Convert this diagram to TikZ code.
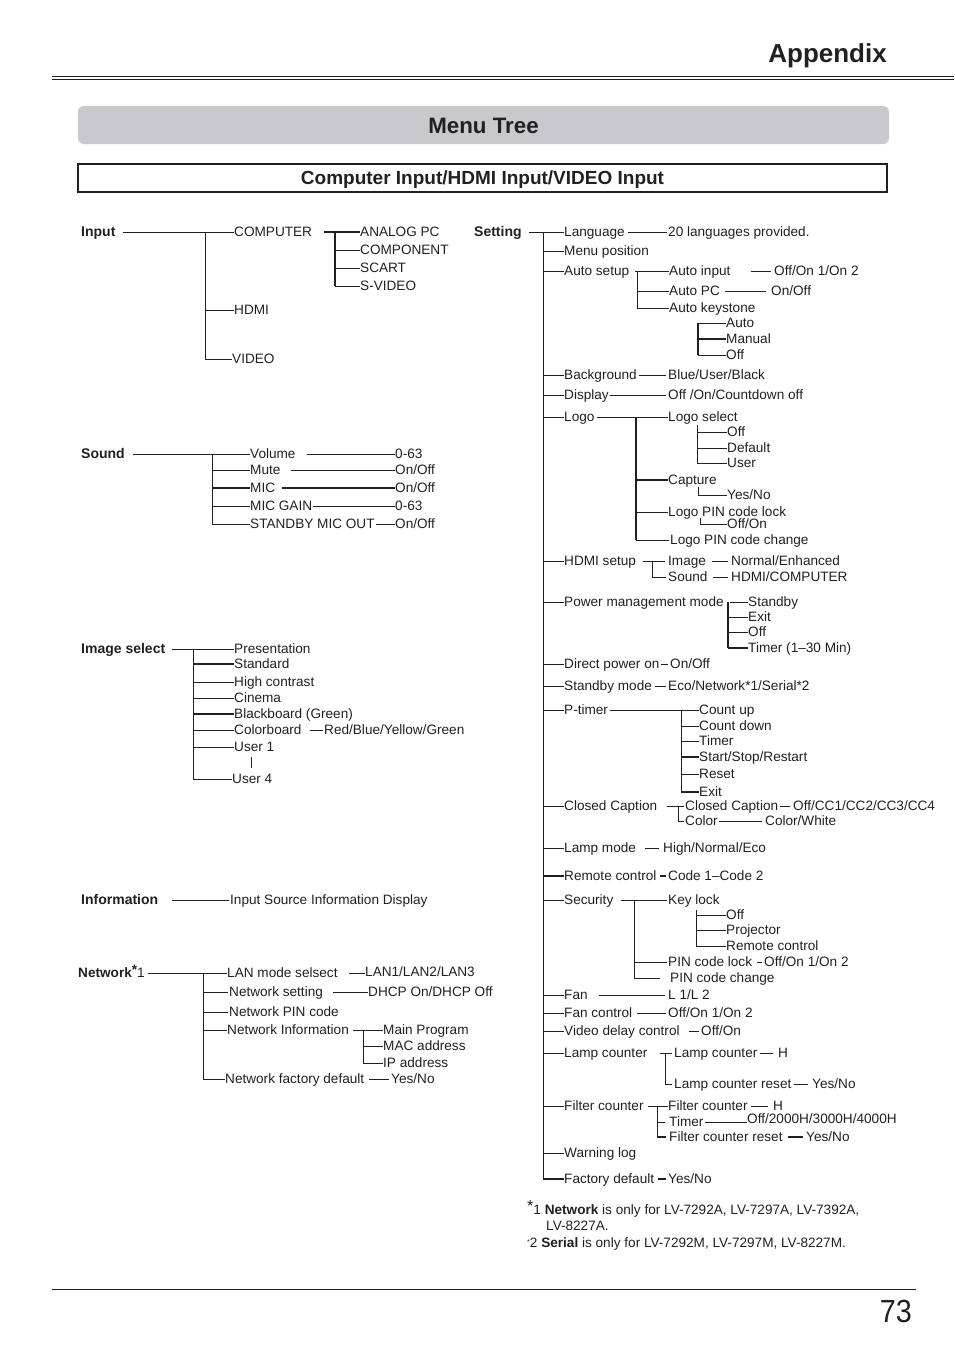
\documentclass[tikz,border=0pt]{standalone}
\usepackage{fontspec}
\setmainfont{Liberation Sans}
\usepackage{graphicx}
\definecolor{ink}{HTML}{231F20}
\definecolor{menugray}{RGB}{201,200,205}
\begin{document}
\begin{tikzpicture}[x=1pt,y=-1pt,
  t/.style={anchor=west, inner sep=0pt, text height=10pt, text depth=1pt, text=ink, font=\fontsize{13.6}{15}\selectfont},
  h/.style={t, font=\fontsize{14}{16}\selectfont\bfseries},
  ln/.style={draw=ink, line width=0.9pt},
  tk/.style={draw=ink, line width=1.8pt},
  rule/.style={draw=ink, line width=0.9pt}]
\useasboundingbox (0,0) rectangle (954,1354);

% ---------- header ----------
\coordinate (hl1) at (52,76); \coordinate (hr1) at (954,76);
\coordinate (hl2) at (52,79); \coordinate (hr2) at (954,79);
\draw[rule] (hl1) -- (hr1); \draw[rule] (hl2) -- (hr2);
\node[anchor=base east, inner sep=0pt, text=ink, font=\fontsize{26}{28}\selectfont\bfseries] (appx) at (887,63) {Appendix};
\fill[menugray, rounded corners=6pt] (78,106) rectangle (889,144);
\node[anchor=base, inner sep=0pt, text=ink, font=\fontsize{22.3}{24}\selectfont\bfseries] (mtree) at (483.5,133) {Menu Tree};
\draw[draw=ink, line width=1.6pt] (78,164) rectangle (887,192);
\node[anchor=base, inner sep=0pt, text=ink, font=\fontsize{19}{21}\selectfont\bfseries] (sect) at (482.5,184.5) {Computer Input/HDMI Input/VIDEO Input};

% ---------- footer ----------
\coordinate (fl) at (52,1289); \coordinate (fr) at (916,1289);
\draw[rule] (fl) -- (fr);
\node[anchor=base east, inner sep=0pt, text=ink, font=\fontsize{32}{34}\selectfont] (pg) at (912,1322) {\scalebox{0.9}[1]{73}};

% ================= LEFT COLUMN =================
% Input
\node[h] (in) at (81,232) {Input};
\node[t] (comp) at (234,232) {COMPUTER};
\node[t] (hdmi) at (234,310) {HDMI};
\node[t] (video) at (232,359) {VIDEO};
\node[t] (apc) at (360,232) {ANALOG PC};
\node[t] (cpn) at (360,250) {COMPONENT};
\node[t] (scart) at (360,268) {SCART};
\node[t] (svid) at (360,286) {S-VIDEO};
\coordinate (jin) at (205,232);
\coordinate (jcomp) at (335,232);
\draw[ln] ([xshift=7pt]in.east) -- (comp.west);
\draw[ln] (jin) |- (video.west);
\draw[ln] (jin |- hdmi.west) -- (hdmi.west);
\draw[ln, line width=1.3pt] ([xshift=12pt]comp.east) -- (apc.west);
\draw[tk] (jcomp) -- (jcomp |- svid.west);
\draw[ln] (jcomp |- cpn.west) -- (cpn.west);
\draw[ln] (jcomp |- scart.west) -- (scart.west);
\draw[ln] (jcomp |- svid.west) -- (svid.west);

% Sound
\node[h] (snd) at (81,454) {Sound};
\node[t] (vol) at (250,454) {Volume};
\node[t] (mute) at (250,470) {Mute};
\node[t] (mic) at (250,488) {MIC};
\node[t] (gain) at (250,506) {MIC GAIN};
\node[t] (smo) at (250,524) {STANDBY MIC OUT};
\node[t] (sv1) at (395,454) {0-63};
\node[t] (sv2) at (395,470) {On/Off};
\node[t] (sv3) at (395,488) {On/Off};
\node[t] (sv4) at (395,506) {0-63};
\node[t] (sv5) at (395,524) {On/Off};
\coordinate (jsnd) at (212,454);
\draw[ln] ([xshift=8pt]snd.east) -- (vol.west);
\draw[ln] (jsnd) |- (smo.west);
\draw[ln] (jsnd |- mute.west) -- (mute.west);
\draw[tk] (jsnd |- mic.west) -- (mic.west);
\draw[ln] (jsnd |- gain.west) -- (gain.west);
\draw[ln] ([xshift=11pt]vol.east) -- (sv1.west);
\draw[ln] ([xshift=10pt]mute.east) -- (sv2.west);
\draw[tk] ([xshift=7pt]mic.east) -- (sv3.west);
\draw[ln] ([xshift=1pt]gain.east) -- (sv4.west);
\draw[ln] ([xshift=1pt]smo.east) -- (sv5.west);

% Image select
\node[h] (isel) at (81,649) {Image select};
\node[t] (pres) at (234,649) {Presentation};
\node[t] (std) at (234,664) {Standard};
\node[t] (hc) at (234,682) {High contrast};
\node[t] (cin) at (234,698) {Cinema};
\node[t] (bb) at (234,714) {Blackboard (Green)};
\node[t] (cb) at (234,730) {Colorboard};
\node[t] (u1) at (234,747) {User 1};
\node[t] (u4) at (232,779) {User 4};
\node[t] (rbyg) at (324,730) {Red/Blue/Yellow/Green};
\coordinate (jis) at (193,649);
\draw[ln] ([xshift=7pt]isel.east) -- (pres.west);
\draw[ln] (jis) |- (u4.west);
\draw[tk] (jis |- std.west) -- (std.west);
\draw[ln] (jis |- hc.west) -- (hc.west);
\draw[ln] (jis |- cin.west) -- (cin.west);
\draw[tk] (jis |- bb.west) -- (bb.west);
\draw[ln] (jis |- cb.west) -- (cb.west);
\draw[ln] (jis |- u1.west) -- (u1.west);
\draw[ln] ([xshift=8pt]cb.east) -- ([xshift=-1pt]rbyg.west);
\coordinate (dotA) at (251,757); \coordinate (dotB) at (251,768);
\draw[ln] (dotA) -- (dotB);

% Information
\node[h] (info) at (81,900) {Information};
\node[t] (isid) at (230,900) {Input Source Information Display};
\draw[ln] ([xshift=14pt]info.east) -- ([xshift=-1pt]isid.west);

% Network
\node[t] (net) at (78,973) {{\bfseries Network}\raisebox{3.5pt}{\bfseries *}1};
\node[t] (lan) at (227,973) {LAN mode selsect};
\node[t] (nset) at (229,992) {Network setting};
\node[t] (npin) at (229,1012) {Network PIN code};
\node[t] (ninf) at (227,1030) {Network Information};
\node[t] (nfd) at (225,1079) {Network factory default};
\node[t] (lan3) at (365,972) {LAN1/LAN2/LAN3};
\node[t] (dhcp) at (368,992) {DHCP On/DHCP Off};
\node[t] (mp) at (383,1030) {Main Program};
\node[t] (mac) at (383,1046) {MAC address};
\node[t] (ipa) at (383,1063) {IP address};
\node[t] (nyn) at (391,1079) {Yes/No};
\coordinate (jnet) at (203,973);
\coordinate (jninf) at (363,1030);
\draw[ln] ([xshift=3pt]net.east) -- (lan.west);
\draw[ln] (jnet) |- (nfd.west);
\draw[ln] (jnet |- nset.west) -- ([xshift=-1pt]nset.west);
\draw[ln] (jnet |- npin.west) -- ([xshift=-1pt]npin.west);
\draw[ln] (jnet |- ninf.west) -- (ninf.west);
\draw[ln] ([xshift=11pt]lan.east) -- (lan3.west |- lan.east);
\draw[ln] ([xshift=10pt]nset.east) -- (dhcp.west);
\draw[ln] ([xshift=4pt]ninf.east) -- (mp.west);
\draw[ln] (jninf) |- (ipa.west);
\draw[ln] (jninf |- mac.west) -- (mac.west);
\draw[ln] ([xshift=5pt]nfd.east) -- ([xshift=-2pt]nyn.west);

% ================= RIGHT COLUMN =================
\node[h] (set) at (474,232) {Setting};
\node[t] (lang) at (564,232) {Language};
\node[t] (mpos) at (564,251) {Menu position};
\node[t] (aset) at (564,271) {Auto setup};
\node[t] (bg) at (564,375) {Background};
\node[t] (disp) at (564,395) {Display};
\node[t] (logo) at (564,417) {Logo};
\node[t] (hset) at (564,561) {HDMI setup};
\node[t] (pmm) at (564,602) {Power management mode};
\node[t] (dpo) at (564,664) {Direct power on};
\node[t] (sbm) at (564,686) {Standby mode};
\node[t] (pt) at (564,710) {P-timer};
\node[t] (cc) at (564,806) {Closed Caption};
\node[t] (lm) at (564,848) {Lamp mode};
\node[t] (rc) at (564,876) {Remote control};
\node[t] (sec) at (564,900) {Security};
\node[t] (fan) at (564,995) {Fan};
\node[t] (fc) at (564,1013) {Fan control};
\node[t] (vdc) at (564,1031) {Video delay control};
\node[t] (lc) at (564,1053) {Lamp counter};
\node[t] (flc) at (564,1106) {Filter counter};
\node[t] (wl) at (564,1153) {Warning log};
\node[t] (fd) at (564,1179) {Factory default};
\coordinate (jset) at (543,232);
\draw[ln] ([xshift=7pt]set.east) -- (lang.west);
\draw[ln] (jset) |- (fd.west);
\foreach \c in {mpos,aset,bg,disp,logo,hset,pmm,dpo,sbm,pt,cc,lm,sec,fan,fc,vdc,lc,flc,wl}
  \draw[ln] (jset |- \c.west) -- (\c.west);
\draw[tk] (jset |- rc.west) -- (rc.west);
\draw[tk] (jset |- fd.west) -- (fd.west);

% Language
\node[t] (l20) at (668,232) {20 languages provided.};
\draw[ln] ([xshift=3pt]lang.east) -- ([xshift=-1pt]l20.west);

% Auto setup
\node[t] (ain) at (669,271) {Auto input};
\node[t] (apc2) at (669,291) {Auto PC};
\node[t] (akey) at (669,308) {Auto keystone};
\node[t] (oo12a) at (774,271) {Off/On 1/On 2};
\node[t] (onoffa) at (771,291) {On/Off};
\node[t] (kauto) at (726,323) {Auto};
\node[t] (kman) at (726,339) {Manual};
\node[t] (koff) at (726,355) {Off};
\coordinate (jaset) at (637,271);
\coordinate (jakey) at (698,323);
\draw[ln] ([xshift=6pt]aset.east) -- (ain.west);
\draw[ln] (jaset) |- (akey.west);
\draw[ln] (jaset |- apc2.west) -- (apc2.west);
\draw[ln] ([xshift=20pt]ain.east) -- ([xshift=-3pt]oo12a.west);
\draw[ln] ([xshift=5pt]apc2.east) -- ([xshift=-5pt]onoffa.west);
\draw[tk] (jakey) -- (jakey |- koff.west);
\draw[ln] (jakey) -- (kauto.west);
\draw[tk] (jakey |- kman.west) -- (kman.west);
\draw[ln] (jakey |- koff.west) -- (koff.west);

% Background / Display
\node[t] (bub) at (668,375) {Blue/User/Black};
\node[t] (ooc) at (668,395) {Off /On/Countdown off};
\draw[ln] ([xshift=2pt]bg.east) -- ([xshift=-2pt]bub.west);
\draw[ln] ([xshift=1pt]disp.east) -- ([xshift=-2pt]ooc.west);

% Logo
\node[t] (lsel) at (668,417) {Logo select};
\node[t] (cap) at (668,480) {Capture};
\node[t] (lpl) at (668,512) {Logo PIN code lock};
\node[t] (lpc) at (670,540) {Logo PIN code change};
\node[t] (loff) at (727,432) {Off};
\node[t] (ldef) at (727,448) {Default};
\node[t] (luser) at (727,463) {User};
\node[t] (yn1) at (727,495) {Yes/No};
\node[t] (oo1) at (727,524) {Off/On};
\coordinate (jlogo) at (636,417);
\coordinate (jlsel) at (697,425);
\coordinate (jcap) at (698,487);
\coordinate (jlpl) at (700,518);
\draw[ln] ([xshift=2pt]logo.east) -- (lsel.west);
\draw[tk] (jlogo) -- (jlogo |- lpc.west);
\draw[tk] (jlogo |- cap.west) -- (cap.west);
\draw[ln] (jlogo |- lpl.west) -- (lpl.west);
\draw[ln] (jlogo |- lpc.west) -- ([xshift=-1pt]lpc.west);
\draw[ln] (jlsel) |- (luser.west);
\draw[ln] (jlsel |- loff.west) -- (loff.west);
\draw[ln] (jlsel |- ldef.west) -- (ldef.west);
\draw[ln] (jcap) |- (yn1.west);
\draw[ln] (jlpl) |- (oo1.west);

% HDMI setup
\node[t] (img) at (668,561) {Image};
\node[t] (hsnd) at (668,577) {Sound};
\node[t] (ne) at (731,561) {Normal/Enhanced};
\node[t] (hc2) at (731,577) {HDMI/COMPUTER};
\coordinate (jhset) at (652,561);
\draw[ln] ([xshift=7pt]hset.east) -- ([xshift=-3pt]img.west);
\draw[ln] (jhset) |- ([xshift=-2pt]hsnd.west);
\draw[ln] ([xshift=6pt]img.east) -- ([xshift=-3pt]ne.west);
\draw[ln] ([xshift=5pt]hsnd.east) -- ([xshift=-3pt]hc2.west);

% Power management
\node[t] (stby) at (748,602) {Standby};
\node[t] (pexit) at (748,617) {Exit};
\node[t] (poff) at (748,632) {Off};
\node[t] (ptim) at (748,648) {Timer (1–30 Min)};
\coordinate (jpmm) at (728,602);
\draw[ln] ([xshift=6pt]pmm.east) -- (stby.west);
\draw[tk] (jpmm) -- (jpmm |- ptim.west);
\draw[ln] (jpmm |- pexit.west) -- (pexit.west);
\draw[ln] (jpmm |- poff.west) -- (poff.west);
\draw[tk] (jpmm |- ptim.west) -- (ptim.west);

% Direct power on / Standby mode
\node[t] (oo2) at (670,664) {On/Off};
\node[t] (eco) at (668,686) {Eco/Network*1/Serial*2};
\draw[ln] ([xshift=1pt]dpo.east) -- ([xshift=-2pt]oo2.west);
\draw[ln] ([xshift=3pt]sbm.east) -- ([xshift=-2pt]eco.west);

% P-timer
\node[t] (cup) at (699,710) {Count up};
\node[t] (cdn) at (699,726) {Count down};
\node[t] (ptmr) at (699,741) {Timer};
\node[t] (ssr) at (699,757) {Start/Stop/Restart};
\node[t] (prst) at (699,774) {Reset};
\node[t] (pex) at (699,792) {Exit};
\coordinate (jpt) at (681,710);
\draw[ln] ([xshift=2pt]pt.east) -- (cup.west);
\draw[ln] (jpt) -- (jpt |- pex.west);
\draw[ln] (jpt |- cdn.west) -- (cdn.west);
\draw[ln] (jpt |- ptmr.west) -- (ptmr.west);
\draw[tk] (jpt |- ssr.west) -- (ssr.west);
\draw[ln] (jpt |- prst.west) -- (prst.west);
\draw[tk] (jpt |- pex.west) -- (pex.west);

% Closed Caption
\node[t] (cc2) at (685,806) {Closed Caption};
\node[t] (col) at (685,821) {Color};
\node[t] (occ) at (793,806) {Off/CC1/CC2/CC3/CC4};
\node[t] (cw) at (765,821) {Color/White};
\coordinate (jcc) at (678,806);
\draw[ln] ([xshift=10pt]cc.east) -- ([xshift=-1pt]cc2.west);
\draw[ln] (jcc) |- ([xshift=-1pt]col.west);
\draw[ln] ([xshift=2pt]cc2.east) -- ([xshift=-3pt]occ.west);
\draw[ln] ([xshift=1pt]col.east) -- ([xshift=-3pt]cw.west);

% Lamp mode / Remote control
\node[t] (hne) at (663,848) {High/Normal/Eco};
\node[t] (c12) at (668,876) {Code 1–Code 2};
\draw[ln] ([xshift=9pt]lm.east) -- ([xshift=-4pt]hne.west);
\draw[tk] ([xshift=3pt]rc.east) -- ([xshift=-2pt]c12.west);

% Security
\node[t] (klock) at (668,900) {Key lock};
\node[t] (pcl) at (668,962) {PIN code lock};
\node[t] (pcc) at (670,978) {PIN code change};
\node[t] (koff2) at (726,915) {Off};
\node[t] (kproj) at (726,930) {Projector};
\node[t] (krc) at (726,946) {Remote control};
\node[t] (oo12b) at (764,962) {Off/On 1/On 2};
\coordinate (jsec) at (634,900);
\coordinate (jkl) at (696,910);
\draw[ln] ([xshift=7pt]sec.east) -- ([xshift=-1pt]klock.west);
\draw[ln] (jsec) |- ([xshift=-10pt]pcc.west);
\draw[ln] (jsec |- pcl.west) -- ([xshift=-1pt]pcl.west);
\draw[ln] (jkl) |- (krc.west);
\draw[ln] (jkl |- koff2.west) -- (koff2.west);
\draw[ln] (jkl |- kproj.west) -- (kproj.west);
\draw[ln] ([xshift=5pt]pcl.east) -- ([xshift=-2pt]oo12b.west);

% Fan / Fan control / Video delay
\node[t] (l12) at (668,995) {L 1/L 2};
\node[t] (oo12c) at (668,1013) {Off/On 1/On 2};
\node[t] (oo3) at (701,1031) {Off/On};
\draw[ln] ([xshift=11pt]fan.east) -- ([xshift=-3pt]l12.west);
\draw[ln] ([xshift=5pt]fc.east) -- ([xshift=-2pt]oo12c.west);
\draw[ln] ([xshift=9pt]vdc.east) -- ([xshift=-2pt]oo3.west);

% Lamp counter
\node[t] (lc2) at (674,1053) {Lamp counter};
\node[t] (lcr) at (674,1084) {Lamp counter reset};
\node[t] (hh1) at (778,1053) {H};
\node[t] (yn2) at (812,1084) {Yes/No};
\coordinate (jlc) at (665,1053);
\draw[ln] ([xshift=12pt]lc.east) -- ([xshift=-2pt]lc2.west);
\draw[ln] (jlc) |- ([xshift=-2pt]lcr.west);
\draw[ln] ([xshift=2pt]lc2.east) -- ([xshift=-5pt]hh1.west);
\draw[ln] ([xshift=2pt]lcr.east) -- ([xshift=-4pt]yn2.west);

% Filter counter
\node[t] (flc2) at (668,1106) {Filter counter};
\node[t] (ftim) at (669,1122) {Timer};
\node[t] (fcr) at (669,1137) {Filter counter reset};
\node[t] (hh2) at (773,1106) {H};
\node[t] (o234) at (747,1119) {Off/2000H/3000H/4000H};
\node[t] (yn3) at (806,1137) {Yes/No};
\coordinate (jflc) at (657,1106);
\draw[ln] ([xshift=4pt]flc.east) -- (flc2.west);
\draw[ln] (jflc) -- (jflc |- fcr.west);
\draw[ln] (jflc |- ftim.west) -- ([xshift=-4pt]ftim.west);
\draw[tk] (jflc |- fcr.west) -- ([xshift=-3pt]fcr.west);
\draw[ln] ([xshift=3pt]flc2.east) -- ([xshift=-5pt]hh2.west);
\draw[ln] ([xshift=1pt]ftim.east) -- (o234.west |- ftim.east);
\draw[tk] ([xshift=5pt]fcr.east) -- ([xshift=-3pt]yn3.west);

% Factory default
\node[t] (yn4) at (668,1179) {Yes/No};
\draw[tk] ([xshift=4pt]fd.east) -- ([xshift=-2pt]yn4.west);

% ---------- footnotes ----------
\node[t] (fn1) at (527,1210) {\raisebox{3pt}{\fontsize{16}{16}\selectfont *}1 \textbf{Network} is only for LV-7292A, LV-7297A, LV-7392A,};
\node[t] (fn1b) at (546,1226) {LV-8227A.};
\node[t] (fn2) at (527,1243) {\raisebox{3pt}{\fontsize{7}{7}\selectfont *}2 \textbf{Serial} is only for LV-7292M, LV-7297M, LV-8227M.};
\end{tikzpicture}
\end{document}
